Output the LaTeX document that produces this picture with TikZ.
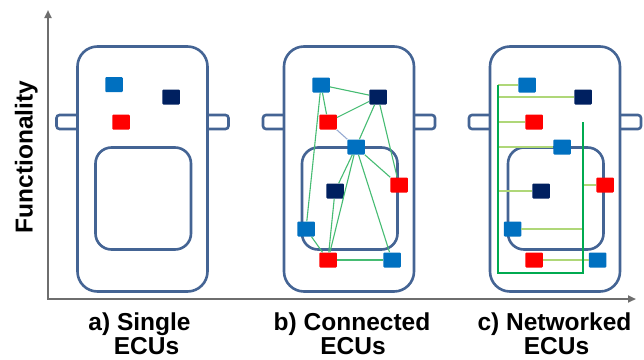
\documentclass[tikz,border=0pt]{standalone}
\usepackage{fontspec}
\setmainfont{Liberation Sans}
\usetikzlibrary{calc,arrows.meta}
\definecolor{carline}{RGB}{68,100,148}
\definecolor{ecublue}{RGB}{0,112,192}
\definecolor{ecunavy}{RGB}{0,32,96}
\definecolor{ecured}{RGB}{255,0,0}
\definecolor{linkgreen}{RGB}{70,188,115}
\definecolor{linkgrey}{RGB}{150,170,210}
\definecolor{busgreen}{RGB}{0,170,80}
\definecolor{stubgreen}{RGB}{175,215,120}
\definecolor{axisgrey}{RGB}{110,110,110}
% car seen from above, #1 = left edge of the body
\def\car(#1){%
	\draw[carline, line width=2.6pt, rounded corners=3pt, fill=white] (#1-21,115) rectangle (#1+2,129);
	\draw[carline, line width=2.6pt, rounded corners=3pt, fill=white] (#1+128,115) rectangle (#1+151,129);
	\draw[carline, line width=2.6pt, rounded corners=20pt, fill=white] (#1,46.5) rectangle (#1+130,291.5);
	\draw[carline, line width=2.6pt, rounded corners=16pt] (#1+18,147.5) rectangle (#1+113.5,249.5);
}
\tikzset{
	ecu/.style={minimum width=17.5pt, minimum height=15pt, inner sep=0pt, rounded corners=1pt},
	blueecu/.style={ecu, fill=ecublue},
	navyecu/.style={ecu, fill=ecunavy},
	redecu/.style={ecu, fill=ecured},
	link/.style={linkgreen, line width=1.1pt},
	bus/.style={busgreen, line width=2pt},
	stub/.style={stubgreen, line width=1.1pt},
	caption/.style={inner sep=0pt, anchor=base, font=\fontsize{24.5}{24}\selectfont\bfseries}
}

\begin{document}
\begin{tikzpicture}[x=1pt, y=-1pt]
	%%%%% START %%%%%
	\useasboundingbox (0,0) rectangle (644,359);
	
	% axes
	\draw[axisgrey, line width=2.4pt, {Triangle[length=8pt,width=7pt]}-{Triangle[length=8pt,width=7pt]}] (48,10) -- (48,299) -- (636,299);
	\node[caption, rotate=90] (yaxis) at (32.5,157) {Functionality};
	
	\car(77.5)
	\car(284)
	\car(490)
	
	% a) single
	\node[blueecu] (a1) at (114,84.5) {};
	\node[navyecu] (a2) at (171,97) {};
	\node[redecu] (a3) at (121,122) {};
	
	% b) connected
	\node[blueecu] (b1) at (321,85) {};
	\node[navyecu] (b2) at (378,97) {};
	\node[redecu] (b3) at (328,122) {};
	\node[blueecu] (b4) at (356,147) {};
	\node[redecu] (b5) at (399,185) {};
	\node[navyecu] (b6) at (335,191) {};
	\node[blueecu] (b7) at (306,229) {};
	\node[redecu] (b8) at (328,260) {};
	\node[blueecu] (b9) at (392,260) {};
	
	\draw[link] (b1) -- (b2);
	\draw[link] (b1) -- (b3);
	\draw[link] (b1) -- (b7);
	\draw[link] (b3) -- (b2);
	\draw[linkgrey, line width=1.1pt] (b3) -- (b4);
	\draw[link] (b2) -- (b4);
	\draw[link] (b2) -- (b5);
	\draw[link] (b4) -- (b5);
	\draw[link] (b4) -- (b6);
	\draw[link] (b4) -- (b8);
	\draw[link] (b4) -- (b9);
	\draw[link] (b6) -- (b8);
	\draw[link] (b7) -- (b8);
	\draw[link] (b8) -- (b9);
	
	% c) networked
	\node[blueecu] (c1) at (527,85) {};
	\node[navyecu] (c2) at (583,97) {};
	\node[redecu] (c3) at (534,122) {};
	\node[blueecu] (c4) at (562,147) {};
	\node[redecu] (c5) at (605,185) {};
	\node[navyecu] (c6) at (541,191) {};
	\node[blueecu] (c7) at (512.5,229) {};
	\node[redecu] (c8) at (534,260) {};
	\node[blueecu] (c9) at (597.5,260) {};
	
	\coordinate (busA) at (497.5,85);
	\coordinate (busB) at (497.5,272.5);
	\coordinate (busC) at (582.5,272.5);
	\coordinate (busD) at (582.5,121.5);
	
	\draw[stub] (busA) -- (c1.west);
	\draw[stub] (c2.west -| busA) -- (c2.west);
	\draw[stub] (c3.west -| busA) -- (c3.west);
	\draw[stub] (c4.west -| busA) -- (c4.west);
	\draw[stub] (c6.west -| busA) -- (c6.west);
	\draw[stub] (c5.west -| busD) -- (c5.west);
	\draw[stub] (c7.east) -- (c7.east -| busD);
	\draw[stub] (c8) -- (c9);
	\draw[bus] (busA) -- (busB) -- (busC) -- (busD);
	
	% captions
	\node[caption] (capa) at (139.5,330.5) {a) Single};
	\node[caption] (capa2) at (146.5,354.5) {ECUs};
	\node[caption] (capb) at (352,330.5) {b) Connected};
	\node[caption] (capb2) at (353,354.5) {ECUs};
	\node[caption] (capc) at (554.5,330.5) {c) Networked};
	\node[caption] (capc2) at (556.5,354.5) {ECUs};
	
	%%%%% END %%%%%
\end{tikzpicture}
\end{document}
